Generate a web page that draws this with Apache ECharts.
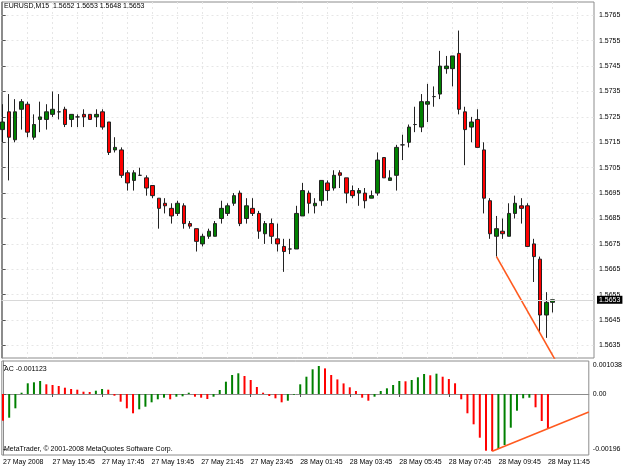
<!DOCTYPE html>
<html><head><meta charset="utf-8">
<script src="https://cdn.jsdelivr.net/npm/echarts@6/dist/echarts.min.js"></script>
<style>html,body{margin:0;padding:0;background:#fff}#c{width:625px;height:469px}</style>
</head><body><div id="c"></div>
<script>
const symbolName = 'EURUSD,M15';
const openP = [1.5720,1.5727,1.5716,1.5728,1.5730,1.5717,1.5724,1.5724,1.5726,1.5727,
1.5728,1.5724,1.5725,1.5726,1.5726,1.5725,1.5727,1.5723,1.5712,1.5712,
1.5703,1.5700,1.5702,1.5701,1.5698,1.5693,1.5691,1.5689,1.5687,1.5690,
1.5683,1.5681,1.5675,1.5678,1.5678,1.5685,1.5687,1.5691,1.5695,1.5685,
1.5689,1.5687,1.5679,1.5683,1.5677,1.5674,1.5673,1.5673,1.5686,1.5695,
1.5690,1.5692,1.5699,1.5697,1.5703,1.5701,1.5696,1.5695,1.5695,1.5693,
1.5695,1.5709,1.5700,1.5702,1.5714,1.5715,1.5722,1.5721,1.5730,1.5733,
1.5734,1.5744,1.5744,1.5750,1.5727,1.5721,1.5724,1.5712,1.5692,1.5678,
1.5680,1.5678,1.5687,1.5690,1.5690,1.5675,1.5669,1.5647,1.5652];
const highP = [1.5730,1.5734,1.5732,1.5732,1.5731,1.5726,1.5731,1.5730,1.5735,1.5734,
1.5729,1.5726,1.5726,1.5728,1.5726,1.5728,1.5728,1.5723,1.5717,1.5713,
1.5704,1.5704,1.5705,1.5702,1.5698,1.5693,1.5693,1.5691,1.5692,1.5691,
1.5684,1.5681,1.5679,1.5681,1.5684,1.5692,1.5691,1.5695,1.5696,1.5693,
1.5693,1.5688,1.5684,1.5685,1.5683,1.5677,1.5677,1.5690,1.5699,1.5696,
1.5693,1.5700,1.5700,1.5704,1.5704,1.5701,1.5698,1.5697,1.5697,1.5696,
1.5711,1.5709,1.5704,1.5714,1.5718,1.5722,1.5729,1.5734,1.5738,1.5737,
1.5751,1.5749,1.5749,1.5759,1.5729,1.5725,1.5728,1.5715,1.5693,1.5686,
1.5685,1.5691,1.5694,1.5693,1.5691,1.5677,1.5670,1.5656,1.5653];
const lowP = [1.5715,1.5700,1.5715,1.5720,1.5717,1.5716,1.5719,1.5720,1.5725,1.5724,
1.5721,1.5721,1.5721,1.5721,1.5724,1.5721,1.5720,1.5710,1.5711,1.5701,
1.5696,1.5696,1.5702,1.5694,1.5693,1.5681,1.5687,1.5683,1.5686,1.5681,
1.5681,1.5672,1.5674,1.5677,1.5678,1.5683,1.5686,1.5690,1.5682,1.5683,
1.5686,1.5677,1.5675,1.5675,1.5672,1.5664,1.5671,1.5673,1.5686,1.5687,
1.5687,1.5690,1.5692,1.5696,1.5697,1.5691,1.5693,1.5690,1.5689,1.5693,
1.5694,1.5701,1.5700,1.5696,1.5708,1.5713,1.5719,1.5719,1.5723,1.5729,
1.5732,1.5742,1.5737,1.5726,1.5706,1.5715,1.5713,1.5687,1.5677,1.5670,
1.5677,1.5678,1.5685,1.5683,1.5674,1.5660,1.5640,1.5638,1.5648];
const closeP = [1.5723,1.5717,1.5727,1.5731,1.5719,1.5722,1.5725,1.5727,1.5728,1.5727,
1.5722,1.5726,1.5725,1.5725,1.5724,1.5726,1.5721,1.5711,1.5713,1.5702,
1.5699,1.5703,1.5702,1.5697,1.5694,1.5689,1.5690,1.5686,1.5691,1.5683,
1.5682,1.5676,1.5678,1.5680,1.5683,1.5689,1.5690,1.5694,1.5683,1.5690,
1.5687,1.5680,1.5683,1.5678,1.5675,1.5672,1.5673,1.5687,1.5696,1.5691,
1.5691,1.5700,1.5696,1.5702,1.5702,1.5695,1.5694,1.5696,1.5692,1.5694,
1.5708,1.5701,1.5701,1.5713,1.5714,1.5721,1.5722,1.5731,1.5731,1.5733,
1.5745,1.5745,1.5749,1.5728,1.5720,1.5723,1.5713,1.5693,1.5679,1.5681,
1.5679,1.5687,1.5691,1.5689,1.5674,1.5670,1.5647,1.5652,1.5653];
const acValues = [-0.000948,-0.000841,-0.000508,0.000046,0.000380,0.000415,0.000462,0.000344,0.000320,0.000284,
0.000224,0.000178,0.000153,0.000082,0.000071,0.000117,0.000178,0.000153,-0.000060,-0.000273,
-0.000508,-0.000685,-0.000543,-0.000451,-0.000295,-0.000188,-0.000131,-0.000188,-0.000096,-0.000082,
0.000046,-0.000096,-0.000131,-0.000178,-0.000096,0.000142,0.000437,0.000675,0.000735,0.000639,
0.000497,0.000249,0.000046,-0.000071,-0.000153,-0.000295,-0.000238,-0.000025,0.000344,0.000614,
0.000877,0.000994,0.000909,0.000675,0.000518,0.000376,0.000238,0.000107,-0.000131,-0.000238,
-0.000096,0.000107,0.000202,0.000320,0.000462,0.000451,0.000497,0.000593,0.000710,0.000664,
0.000721,0.000614,0.000533,0.000380,-0.000188,-0.000685,-0.001076,-0.001551,-0.002013,-0.002030,
-0.001953,-0.001811,-0.001196,-0.000593,-0.000153,-0.000131,-0.000472,-0.000959,-0.001218];
const timeTickIndex = [0,8,16,24,32,40,48,56,64,72,80,88];
const timeTickLabels = ['27 May 2008','27 May 15:45','27 May 17:45','27 May 19:45','27 May 21:45','27 May 23:45',
'28 May 01:45','28 May 03:45','28 May 05:45','28 May 07:45','28 May 09:45','28 May 11:45'];
const gridTickIndex = [0,4,8,12,16,20,24,28,32,36,40,44,48,52,56,60,64,68,72,76,80,84,88,92];
const priceTicks = [1.5635,1.5645,1.5655,1.5665,1.5675,1.5685,1.5695,1.5705,1.5715,1.5725,1.5735,1.5745,1.5755,1.5765];
const acTicks = [0.001038, 0, -0.00196];
const acTickLabels = ['0.001038','0.00','-0.00196'];
const lastPrice = 1.5653;
const acCurrentLabel = 'AC -0.001123';
const copyrightText = 'MetaTrader, \u00a9 2001-2008 MetaQuotes Software Corp.';
const priceTrend = [[79,1.5670],[89,1.56267]];
const acTrend = [[79,-0.00203],[94.6,-0.00064]];

const FONT = 'Liberation Sans';
const FS = 7;
const UP = '#008000', DOWN = '#ff0000';
const last = openP.length - 1;
const header = symbolName + '  ' + [openP[last], highP[last], lowP[last], closeP[last]].map(v => v.toFixed(4)).join(' ');

const candleData = openP.map((o, i) => [i, o, closeP[i], lowP[i], highP[i]]);
const acData = acValues.map((v, i) => [i, v]);

const X_MIN = -0.19, X_MAX = 94.6;
const gridSplit = {show: true, lineStyle: {color: '#e6e6e6', type: [2, 3], width: 1}};

const chart = echarts.init(document.getElementById('c'), null, {renderer: 'canvas'});
chart.setOption({
  animation: false,
  backgroundColor: '#ffffff',
  textStyle: {fontFamily: FONT},
  title: [
    {text: header, left: 4, top: 3, padding: 0, textStyle: {fontSize: FS, fontWeight: 'normal', color: '#000', fontFamily: FONT}},
    {text: acCurrentLabel, left: 4, top: 366, padding: 0, textStyle: {fontSize: FS, fontWeight: 'normal', color: '#000', fontFamily: FONT}},
    {text: copyrightText, left: 4, top: 446, padding: 0, textStyle: {fontSize: FS, fontWeight: 'normal', color: '#000', fontFamily: FONT}}
  ],
  grid: [
    {left: 1.5, right: 31, top: 2, height: 356, show: true, borderColor: '#8c8c8c', borderWidth: 1, backgroundColor: '#fff'},
    {left: 1.5, right: 31, top: 361, height: 94, show: true, borderColor: '#8c8c8c', borderWidth: 1, backgroundColor: '#fff'}
  ],
  xAxis: [
    {type: 'value', gridIndex: 0, min: X_MIN, max: X_MAX, position: 'bottom',
     axisLine: {show: false}, axisTick: {show: false, customValues: gridTickIndex},
     axisLabel: {show: false, customValues: gridTickIndex}, splitLine: gridSplit},
    {type: 'value', gridIndex: 1, min: X_MIN, max: X_MAX, position: 'bottom',
     axisLine: {show: true, lineStyle: {color: '#8c8c8c'}},
     axisTick: {show: true, length: 3, customValues: timeTickIndex, lineStyle: {color: '#555'}},
     axisLabel: {show: true, customValues: timeTickIndex, fontSize: FS, color: '#000', fontFamily: FONT,
       align: 'left', margin: 4, showMinLabel: true, showMaxLabel: true,
       formatter: v => { const k = timeTickIndex.indexOf(Math.round(v)); return k >= 0 ? timeTickLabels[k] : ''; }},
     splitLine: {show: false}}
  ],
  yAxis: [
    {type: 'value', gridIndex: 0, position: 'right', min: 1.563008, max: 1.577024, scale: true,
     axisLine: {show: true, lineStyle: {color: '#8c8c8c'}},
     axisTick: {show: true, length: 3, customValues: priceTicks, lineStyle: {color: '#555'}},
     axisLabel: {show: true, customValues: priceTicks, fontSize: FS, color: '#000', fontFamily: FONT, margin: 5,
       showMinLabel: true, showMaxLabel: true, formatter: v => v.toFixed(4)},
     splitLine: gridSplit},
    {type: 'value', gridIndex: 1, position: 'right', min: -0.0021655, max: 0.0011715,
     axisLine: {show: true, lineStyle: {color: '#8c8c8c'}},
     axisTick: {show: true, length: 3, customValues: acTicks, lineStyle: {color: '#555'}},
     axisLabel: {show: true, customValues: acTicks, fontSize: FS, color: '#000', fontFamily: FONT, margin: 4,
       showMinLabel: true, showMaxLabel: true,
       formatter: v => { let best = 0, d = Infinity; acTicks.forEach((t, k) => { if (Math.abs(t - v) < d) { d = Math.abs(t - v); best = k; } }); return acTickLabels[best]; }},
     splitLine: {show: false}}
  ],
  series: [
    {type: 'candlestick', xAxisIndex: 0, yAxisIndex: 0, data: candleData, barWidth: 4,
     itemStyle: {color: UP, color0: DOWN, borderColor: '#222', borderColor0: '#222', borderWidth: 1}},
    {type: 'line', xAxisIndex: 0, yAxisIndex: 0, data: priceTrend, symbol: 'none', clip: true, z: 3,
     lineStyle: {color: '#ff5a1f', width: 1.6},
     markLine: {silent: true, symbol: 'none', animation: false,
       data: [[{coord: [X_MIN, lastPrice]}, {coord: [X_MAX, lastPrice]}]],
       lineStyle: {color: '#d8d8d8', type: 'solid', width: 1},
       label: {show: true, position: 'end', distance: 3, formatter: () => lastPrice.toFixed(4),
         backgroundColor: '#000', color: '#fff', fontSize: FS, fontFamily: FONT, padding: [1, 2, 0, 2]}}},
    {type: 'bar', xAxisIndex: 1, yAxisIndex: 1, data: acData, barWidth: 2,
     itemStyle: {color: p => (p.dataIndex > 0 && acValues[p.dataIndex] > acValues[p.dataIndex - 1]) ? UP : DOWN}},
    {type: 'line', xAxisIndex: 1, yAxisIndex: 1, data: acTrend, symbol: 'none', clip: true,
     lineStyle: {color: '#ff5a1f', width: 1.6}}
  ]
});
</script></body></html>
